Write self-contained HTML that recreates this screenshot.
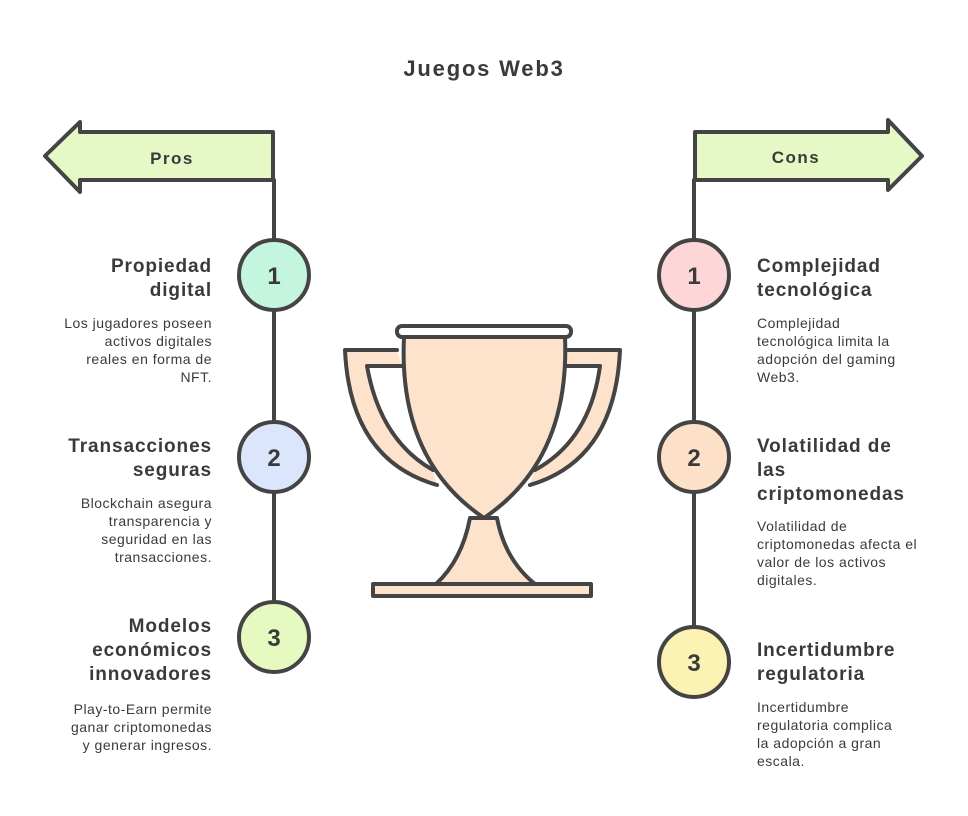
<!DOCTYPE html>
<html><head><meta charset="utf-8"><style>
body{margin:0;background:#fff;width:968px;height:816px;position:relative;font-family:"Liberation Sans",sans-serif;color:#3a3a3a;overflow:hidden}
.t{position:absolute;font-weight:bold;font-size:19px;line-height:24px;letter-spacing:0.9px;white-space:nowrap}
.d{position:absolute;font-size:14px;line-height:18px;letter-spacing:0.5px;white-space:nowrap}
.l{text-align:right;right:756px}
.r{left:757px}
</style></head><body>
<svg width="968" height="816" style="position:absolute;left:0;top:0" fill="none" stroke="#444" stroke-width="4" stroke-linejoin="round" stroke-linecap="round">
<text x="484" y="76" text-anchor="middle" font-family="Liberation Sans" font-weight="bold" font-size="22" letter-spacing="1.8" fill="#3a3a3a" stroke="none">Juegos Web3</text>
<path d="M273,132 L80,132 L80,122 L45,156 L80,192 L80,180 L273,180 Z" fill="#e6f8c6"/>
<path d="M695,132 L888,132 L888,120 L922,156 L888,190 L888,180 L695,180 Z" fill="#e6f8c6"/>
<text x="172" y="164" text-anchor="middle" font-family="Liberation Sans" font-weight="bold" font-size="17" letter-spacing="1.5" fill="#3a3a3a" stroke="none">Pros</text>
<text x="796" y="163" text-anchor="middle" font-family="Liberation Sans" font-weight="bold" font-size="17" letter-spacing="1.5" fill="#3a3a3a" stroke="none">Cons</text>
<line x1="274" y1="180" x2="274" y2="640"/>
<line x1="694" y1="180" x2="694" y2="662"/>
<circle cx="274" cy="275" r="35" fill="#c3f5df"/>
<circle cx="274" cy="457" r="35" fill="#dbe6fd"/>
<circle cx="274" cy="637" r="35" fill="#e5f9c0"/>
<circle cx="694" cy="275" r="35" fill="#fdd6d8"/>
<circle cx="694" cy="457" r="35" fill="#fde0c8"/>
<circle cx="694" cy="662" r="35" fill="#fbf2b3"/>
<g font-family="Liberation Sans" font-weight="bold" font-size="24" fill="#3a3a3a" stroke="none" text-anchor="middle">
<text x="274" y="284">1</text><text x="274" y="466">2</text><text x="274" y="646">3</text>
<text x="694" y="284">1</text><text x="694" y="466">2</text><text x="694" y="671">3</text></g>
<path d="M397,350 L345,350 Q350,460 437,485" fill="#fde3cc"/>
<path d="M404,366 L367,366 Q380,440 433,470" fill="#fff"/>
<path d="M565,350 L620,350 Q615,460 530,485" fill="#fde3cc"/>
<path d="M560,366 L600,366 Q590,440 535,470" fill="#fff"/>
<path d="M470,518 Q462,560 436,584 L535,584 Q505,560 497,518 Z" fill="#fde3cc"/>
<path d="M404,337 Q398,460 484,518 Q570,460 565,337 Z" fill="#fde3cc"/>
<rect x="397" y="326" width="174" height="11" rx="5" fill="#fff"/>
<rect x="373" y="584" width="218" height="12" fill="#fde3cc"/>
</svg>
<div class="t l" style="top:255px">Propiedad<br>digital</div>
<div class="d l" style="top:314px">Los jugadores poseen<br>activos digitales<br>reales en forma de<br>NFT.</div>
<div class="t l" style="top:435px">Transacciones<br>seguras</div>
<div class="d l" style="top:494px">Blockchain asegura<br>transparencia y<br>seguridad en las<br>transacciones.</div>
<div class="t l" style="top:615px">Modelos<br>económicos<br>innovadores</div>
<div class="d l" style="top:700px">Play-to-Earn permite<br>ganar criptomonedas<br>y generar ingresos.</div>
<div class="t r" style="top:255px">Complejidad<br>tecnológica</div>
<div class="d r" style="top:314px">Complejidad<br>tecnológica limita la<br>adopción del gaming<br>Web3.</div>
<div class="t r" style="top:435px">Volatilidad de<br>las<br>criptomonedas</div>
<div class="d r" style="top:517px">Volatilidad de<br>criptomonedas afecta el<br>valor de los activos<br>digitales.</div>
<div class="t r" style="top:639px">Incertidumbre<br>regulatoria</div>
<div class="d r" style="top:698px">Incertidumbre<br>regulatoria complica<br>la adopción a gran<br>escala.</div>
</body></html>
